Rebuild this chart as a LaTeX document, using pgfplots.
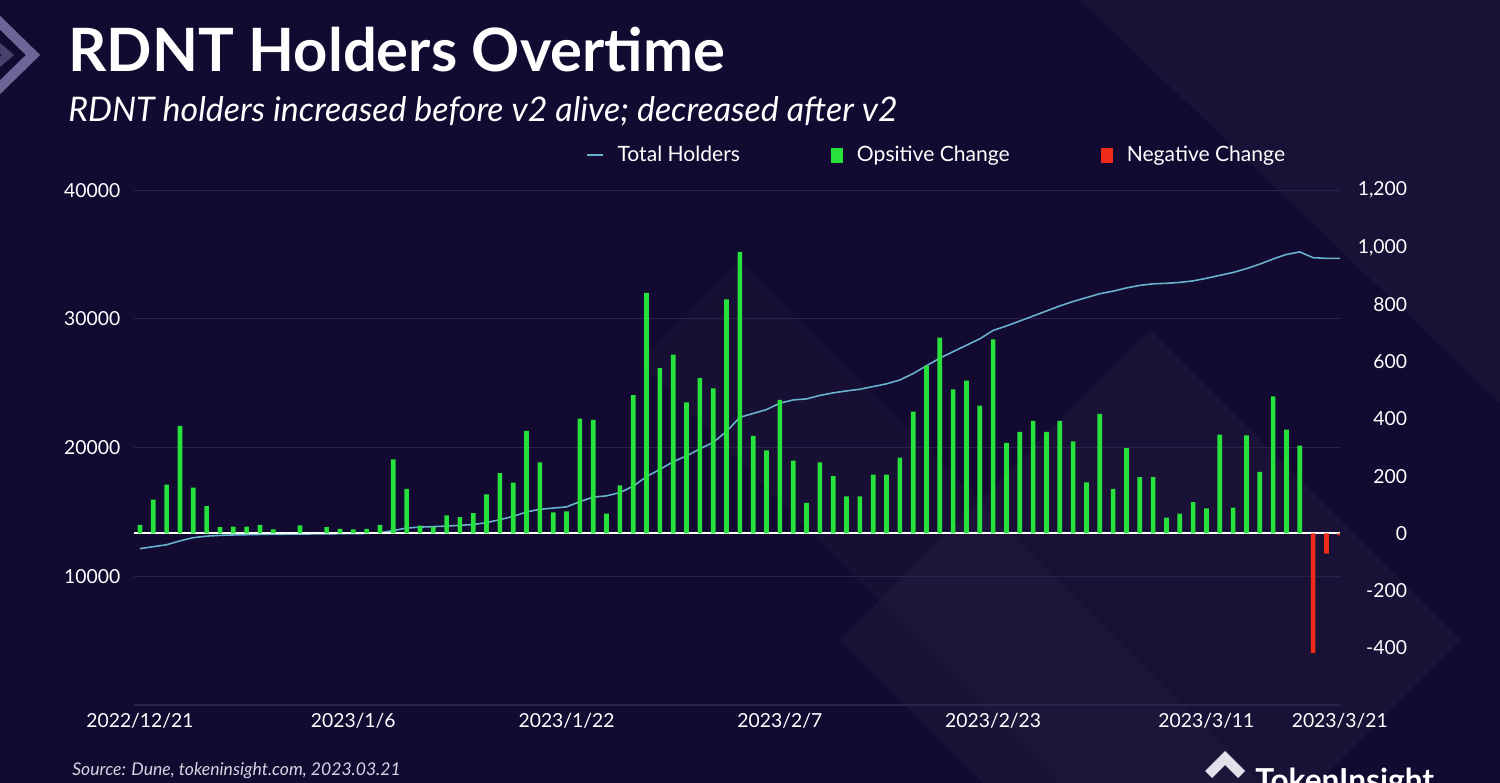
\documentclass[border=0pt]{standalone}
\usepackage{fontspec}
\setmainfont{Lato}
\usepackage{pgfplots}
\pgfplotsset{compat=1.18}

\definecolor{bg}{RGB}{18,10,48}
\definecolor{gridc}{RGB}{44,34,80}
\definecolor{posG}{RGB}{38,226,58}
\definecolor{negR}{RGB}{240,44,24}
\definecolor{lineT}{RGB}{104,178,206}
\definecolor{srcC}{RGB}{215,212,228}
\definecolor{logoC}{RGB}{110,100,150}

\pgfplotsset{
  lineleg/.style={legend image code/.code={\draw[lineT, line width=0.9pt] (0cm,0cm) -- (0.32cm,0cm);}},
  greenleg/.style={legend image code/.code={\fill[posG] (0cm,-0.15cm) rectangle (0.24cm,0.15cm);}},
  redleg/.style={legend image code/.code={\fill[negR] (0cm,-0.15cm) rectangle (0.24cm,0.15cm);}},
}

\begin{document}
\begin{tikzpicture}
\begin{scope}[x=0.02cm,y=0.02cm]
  \clip (0,0) rectangle (1500,783);
  \fill[bg] (0,0) rectangle (1500,783);
  % faint background shapes
  \fill[white, opacity=0.03] (840,143) -- (1150,453) -- (1460,143) -- (1150,-167) -- cycle;
  \fill[white, opacity=0.03] (1080,783) -- (1500,783) -- (1500,380) -- cycle;
  \fill[white, opacity=0.022] (640,420) -- (740,520) -- (1400,-140) -- (1300,-240) -- cycle;
  % corner logo
  \draw[logoC, line width=0.2cm] (-10,770) -- (33,728) -- (-10,686);
  \draw[logoC!60!bg, line width=0.16cm] (-12,745) -- (8,728) -- (-12,711);
  % titles
  \node[anchor=base west, inner sep=0, text=white, font=\fontsize{34}{38}\selectfont\bfseries] at (68,711) {RDNT Holders Overtime};
  \node[anchor=base west, inner sep=0, text=white, font=\fontsize{19.3}{23}\selectfont\itshape] at (68,661) {RDNT holders increased before v2 alive; decreased after v2};
  \node[anchor=base west, inner sep=0, text=srcC, font=\fontsize{10}{12}\selectfont\itshape] at (72,7) {Source: Dune, tokeninsight.com, 2023.03.21};
  % brand
  \fill[white!80!logoC] (1205,12) -- (1225,32) -- (1245,12) -- (1238,5) -- (1225,18) -- (1212,5) -- cycle;
  \node[anchor=base west, inner sep=0, text=white, font=\fontsize{18}{20}\selectfont\bfseries] at (1255,-9) {TokenInsight};
\end{scope}

% left axis: total holders
\begin{axis}[
  at={(2.68cm,1.56cm)}, anchor=south west, scale only axis,
  width=24.12cm, height=10.3cm,
  xmin=-0.45, xmax=90, ymin=0, ymax=40000,
  axis line style={draw=none}, major tick length=0pt,
  scaled y ticks=false,
  ytick={0,10000,20000,30000,40000},
  yticklabels={,10000,20000,30000,40000},
  ymajorgrids, major grid style={gridc, line width=0.6pt},
  xtick={0,16,32,48,64,80,90},
  xticklabels={2022/12/21,2023/1/6,2023/1/22,2023/2/7,2023/2/23,2023/3/11,2023/3/21},
  ticklabel style={font=\fontsize{11}{13}\selectfont, text=white},
  yticklabel style={xshift=-0.15cm},
  xticklabel style={yshift=-0.05cm},
  /pgf/number format/assume math mode=true,
]
\addplot[lineT, line width=0.9pt] coordinates {
(0,12150) (1,12300) (2,12450) (3,12750) (4,13000) (5,13120) (6,13180) (7,13210)
(8,13230) (9,13250) (10,13260) (11,13270) (12,13280) (13,13290) (14,13300) (15,13310)
(16,13320) (17,13330) (18,13380) (19,13550) (20,13750) (21,13820) (22,13860) (23,13900)
(24,13960) (25,14020) (26,14170) (27,14400) (28,14650) (29,15000) (30,15200) (31,15300)
(32,15390) (33,15800) (34,16150) (35,16250) (36,16500) (37,17000) (38,17750) (39,18300)
(40,18900) (41,19350) (42,19900) (43,20400) (44,21250) (45,22350) (46,22650) (47,22950)
(48,23450) (49,23700) (50,23780) (51,24050) (52,24250) (53,24400) (54,24530) (55,24740)
(56,24950) (57,25250) (58,25750) (59,26350) (60,26950) (61,27450) (62,27950) (63,28450)
(64,29100) (65,29450) (66,29830) (67,30220) (68,30610) (69,31000) (70,31350) (71,31650)
(72,31950) (73,32150) (74,32400) (75,32600) (76,32720) (77,32760) (78,32830) (79,32950)
(80,33150) (81,33380) (82,33600) (83,33900) (84,34250) (85,34650) (86,35000) (87,35200)
(88,34750) (89,34700) (90,34700)
};
\end{axis}

% right axis: daily change
\begin{axis}[
  at={(2.68cm,1.56cm)}, anchor=south west, scale only axis,
  width=24.12cm, height=10.3cm,
  xmin=-0.45, xmax=90, ymin=-600, ymax=1200,
  axis line style={draw=none}, major tick length=0pt,
  xtick=\empty,
  ytick={-400,-200,0,200,400,600,800,1000,1200},
  yticklabel pos=right,
  yticklabel style={anchor=east, xshift=1.47cm, font=\fontsize{11}{13}\selectfont, text=white},
  extra y ticks={0}, extra y tick labels={},
  extra y tick style={grid=major, major grid style={white, line width=1.2pt}},
  ybar, bar width=0.35, bar shift=0pt,
  legend style={at={(0.3706,1.068)}, anchor=west, draw=none, fill=none, text=white,
    font=\fontsize{12}{14}\selectfont, legend columns=3,
    /tikz/every odd column/.append style={column sep=0.2cm},
    /tikz/every even column/.append style={column sep=1.76cm}},
  legend cell align=left,
  /pgf/number format/1000 sep={,},
  /pgf/number format/assume math mode=true,
]
\addlegendimage{lineleg}
\addlegendentry{Total Holders}
\addplot[fill=posG, draw=none, bar shift=0pt, greenleg] coordinates {
(0,30) (1,118) (2,170) (3,376) (4,160) (5,95) (6,22) (7,24) (8,24) (9,30)
(10,14) (11,0) (12,28) (13,0) (14,22) (15,16) (16,14) (17,16) (18,30) (19,259)
(20,156) (21,27) (22,22) (23,63) (24,57) (25,71) (26,136) (27,211) (28,177) (29,358)
(30,248) (31,73) (32,77) (33,401) (34,397) (35,69) (36,168) (37,483) (38,841) (39,578)
(40,625) (41,458) (42,543) (43,507) (44,818) (45,984) (46,341) (47,290) (48,467) (49,254)
(50,107) (51,248) (52,200) (53,129) (54,129) (55,205) (56,205) (57,265) (58,426) (59,586)
(60,684) (61,503) (62,534) (63,447) (64,678) (65,316) (66,355) (67,393) (68,355) (69,393)
(70,322) (71,178) (72,418) (73,156) (74,298) (75,197) (76,197) (77,55) (78,69) (79,109)
(80,87) (81,345) (82,90) (83,343) (84,215) (85,479) (86,363) (87,307)
};
\addlegendentry{Opsitive Change}
\addplot[fill=negR, draw=none, bar shift=0pt, redleg] coordinates {
(88,-418) (89,-71) (90,-7)
};
\addlegendentry{Negative Change}
\end{axis}
\end{tikzpicture}
\end{document}
